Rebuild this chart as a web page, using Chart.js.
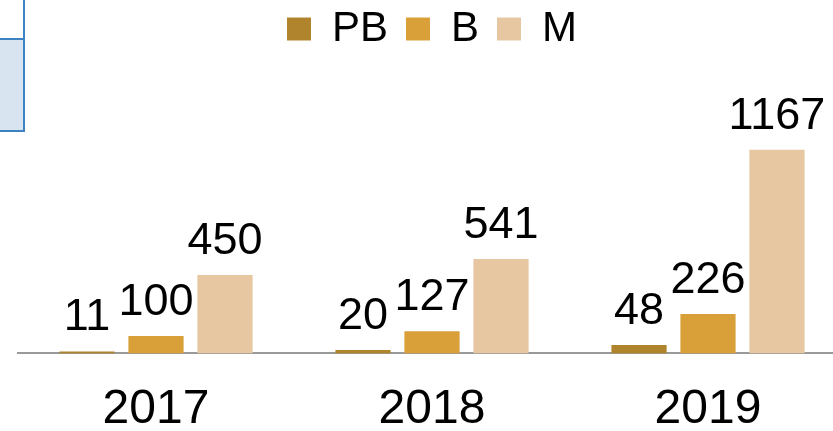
<!DOCTYPE html>
<html>
<head>
<meta charset="utf-8">
<script src="https://cdn.jsdelivr.net/npm/chart.js@4"></script>
<style>
  html, body { margin: 0; padding: 0; background: #fff; overflow: hidden; width: 833px; height: 431px; }
  #wrap { position: absolute; left: 0; top: -10px; width: 856px; height: 477px; }
  .box1 { position: absolute; left: -10px; top: -10px; width: 31px; height: 48px; border: 2px solid #3d82c2; background: #fff; }
  .box2 { position: absolute; left: -10px; top: 38px; width: 31px; height: 90px; border: 2px solid #3d82c2; background: #d8e5f1; }
</style>
</head>
<body>
<div class="box1"></div>
<div class="box2"></div>
<div id="wrap"><canvas id="chart"></canvas></div>
<script>
const years = ['2017', '2018', '2019'];
const pbValues = [11, 20, 48];
const bValues = [100, 127, 226];
const mValues = [450, 541, 1167];

Chart.defaults.font.family = "'Liberation Sans', Arial, sans-serif";
Chart.defaults.color = '#000';

// numbers above each bar
const valueLabels = {
    id: 'valueLabels',
    afterDatasetsDraw(chart) {
        const ctx = chart.ctx;
        ctx.save();
        ctx.font = "45px 'Liberation Sans', Arial, sans-serif";
        ctx.fillStyle = '#000';
        ctx.textAlign = 'center';
        ctx.textBaseline = 'alphabetic';
        chart.data.datasets.forEach((ds, i) => {
            chart.getDatasetMeta(i).data.forEach((bar, j) => {
                ctx.fillText(ds.data[j], bar.x, bar.y - 21);
            });
        });
        ctx.restore();
    }
};

const ctx = document.getElementById('chart').getContext('2d');
new Chart(ctx, {
    type: 'bar',
    data: {
        labels: years,
        datasets: [
            { label: 'PB', data: pbValues, backgroundColor: '#b0842d' },
            { label: 'B', data: bValues, backgroundColor: '#d9a03a' },
            { label: 'M', data: mValues, backgroundColor: '#e7c7a2' }
        ]
    },
    options: {
        responsive: true,
        maintainAspectRatio: false,
        animation: false,
        layout: { padding: { left: 18, right: 10, top: 0, bottom: 0 } },
        datasets: {
            bar: { categoryPercentage: 0.75, barPercentage: 0.8, borderWidth: 0 }
        },
        plugins: {
            tooltip: { enabled: false },
            legend: {
                position: 'top',
                labels: {
                    boxWidth: 24,
                    boxHeight: 23,
                    padding: 18,
                    font: { size: 42 }
                }
            }
        },
        scales: {
            x: {
                grid: { display: false, drawTicks: false },
                border: { color: '#999', width: 2 },
                ticks: { font: { size: 48 }, padding: 28 }
            },
            y: {
                display: false,
                min: 0,
                max: 1682
            }
        }
    },
    plugins: [valueLabels]
});
</script>
</body>
</html>
